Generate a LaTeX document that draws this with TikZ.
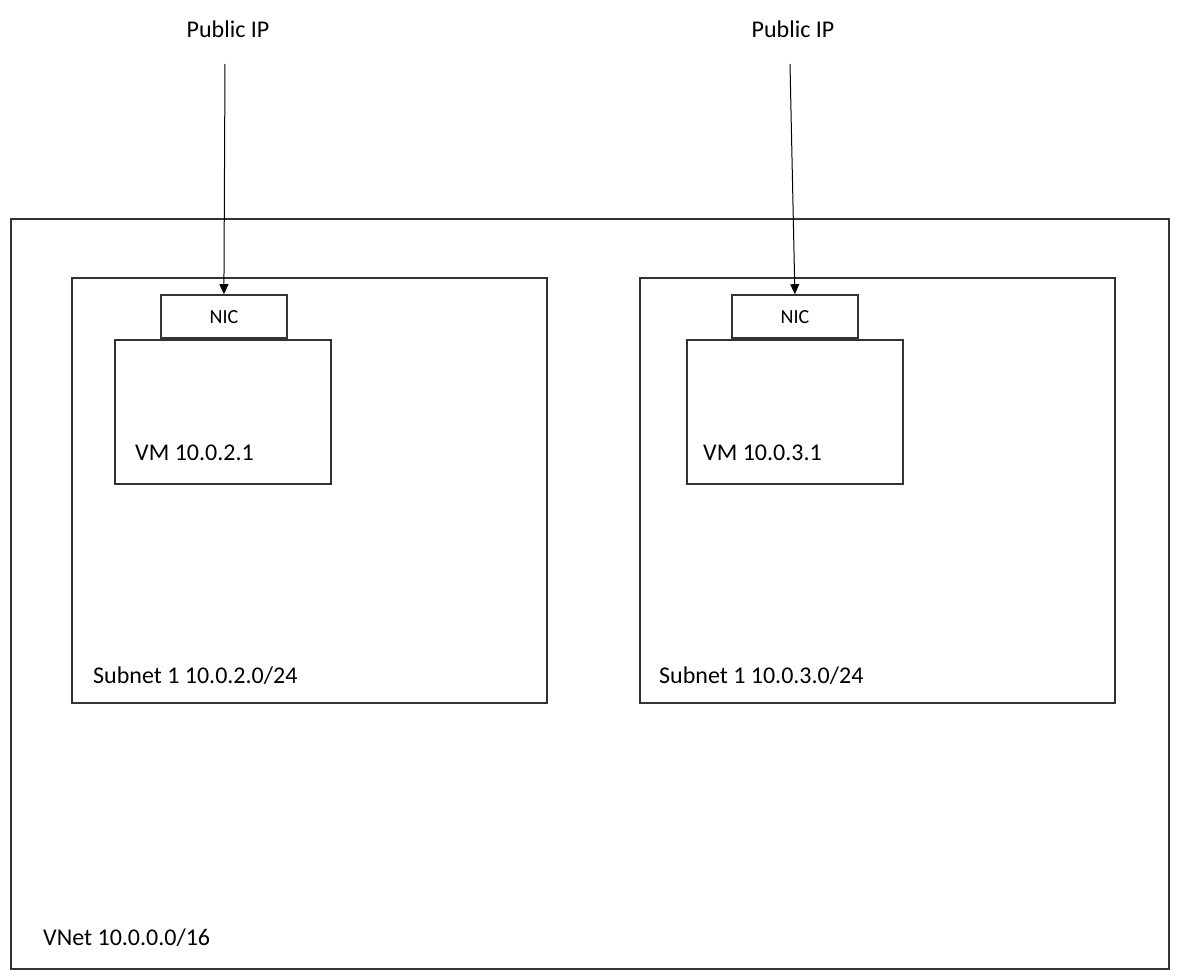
\documentclass[tikz,border=0pt]{standalone}
\usepackage{fontspec}
\setmainfont{Carlito}
\usetikzlibrary{arrows.meta}

\begin{document}
\begin{tikzpicture}[x=1pt, y=-1pt, >={Triangle[width=9pt,length=10pt]},
  box/.style={draw=black!80, line width=1.8pt, rectangle, anchor=north west, inner sep=0pt},
  nicbox/.style={draw=black!80, line width=1.8pt, rectangle, fill=white, inner sep=0pt,
    minimum width=126pt, minimum height=43pt, font=\fontsize{20}{24}\selectfont},
  lbl/.style={anchor=base west, inner sep=0pt, font=\fontsize{24}{28}\selectfont}]
  \useasboundingbox (0,0) rectangle (1179,979);

  % VNet
  \node[box, minimum width=1158pt, minimum height=750pt] (vnet) at (10,218) {};
  \node[lbl] (vnetlbl) at (43,945) {VNet 10.0.0.0/16};

  % Subnets
  \node[box, minimum width=475pt, minimum height=425pt] (subL) at (71,277) {};
  \node[box, minimum width=475pt, minimum height=425pt] (subR) at (639,277) {};
  \node[lbl] (subLlbl) at (93,683) {Subnet 1 10.0.2.0/24};
  \node[lbl] (subRlbl) at (659,683) {Subnet 1 10.0.3.0/24};

  % VMs
  \node[box, minimum width=216pt, minimum height=144pt] (vmL) at (114,339) {};
  \node[box, minimum width=216pt, minimum height=144pt] (vmR) at (686,339) {};
  \node[lbl] (vmLlbl) at (135,460) {VM 10.0.2.1};
  \node[lbl] (vmRlbl) at (703,460) {VM 10.0.3.1};

  % NICs on top of the VMs
  \node[nicbox, anchor=south west] (nicL) at (160,339) {NIC};
  \node[nicbox, anchor=south west] (nicR) at (731,339) {NIC};

  % Public IPs
  \node[lbl, anchor=base] (pipL) at (228,38) {Public IP};
  \node[lbl, anchor=base] (pipR) at (793,38) {Public IP};
  \coordinate (pipLend) at (225,64);
  \coordinate (pipRend) at (790,64);

  \draw[->, line width=1pt] (pipLend) -- (nicL.north);
  \draw[->, line width=1pt] (pipRend) -- (nicR.north);
\end{tikzpicture}
\end{document}
